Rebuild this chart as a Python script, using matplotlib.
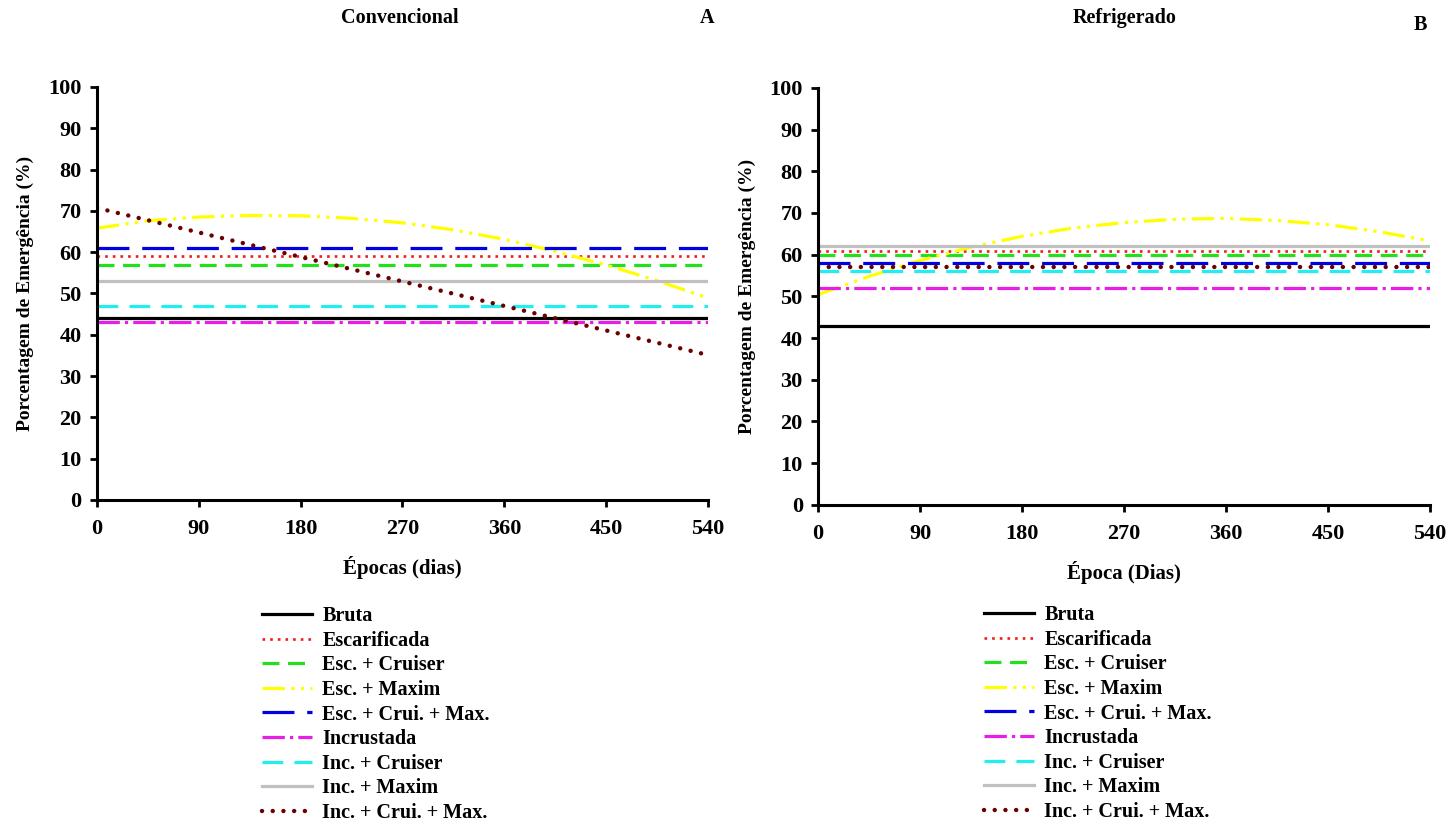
import matplotlib
matplotlib.use('Agg')
import matplotlib.pyplot as plt

plt.rcParams['font.family'] = ['Liberation Serif', 'DejaVu Serif']
plt.rcParams['font.weight'] = 'bold'
plt.rcParams['axes.labelweight'] = 'bold'

days = [0, 45, 90, 135, 180, 225, 270, 315, 360, 405, 450, 495, 540]
line_days = [0, 540]

labels = ['Bruta', 'Escarificada', 'Esc. + Cruiser', 'Esc. + Maxim',
          'Esc. + Crui. + Max.', 'Incrustada', 'Inc. + Cruiser',
          'Inc. + Maxim', 'Inc. + Crui. + Max.']

# Convencional (A)
conv_bruta = [44, 44]
conv_escarificada = [59, 59]
conv_esc_cruiser = [57, 57]
conv_esc_maxim = [65.8, 67.6, 68.5, 68.9, 68.8, 68.2, 67.1, 65.4, 63.1, 60.2, 56.9, 53.1, 48.9]
conv_esc_crui_max = [61, 61]
conv_incrustada = [43, 43]
conv_inc_cruiser = [47, 47]
conv_inc_maxim = [53, 53]
conv_inc_crui_max = [70.7, 35.1]

# Refrigerado (B)
ref_bruta = [43, 43]
ref_escarificada = [61, 61]
ref_esc_cruiser = [60, 60]
ref_esc_maxim = [50.4, 54.8, 58.6, 61.8, 64.4, 66.4, 67.7, 68.5, 68.7, 68.2, 67.2, 65.5, 63.3]
ref_esc_crui_max = [58, 58]
ref_incrustada = [52, 52]
ref_inc_cruiser = [56, 56]
ref_inc_maxim = [62, 62]
ref_inc_crui_max = [57, 57]

styles = [
    dict(color='black', lw=2.3, ls='-'),
    dict(color='#ee1c1c', lw=1.9, ls=(0, (1, 1.9))),
    dict(color='#22e01c', lw=2.3, ls=(0, (5.3, 2.7))),
    dict(color='#ffff00', lw=2.3, ls=(0, (7, 2, 1, 2, 1, 2))),
    dict(color='#0000e0', lw=2.3, ls=(0, (10, 4))),
    dict(color='#e81ee8', lw=2.3, ls=(0, (7, 1.6, 1, 1.6))),
    dict(color='#22eef0', lw=2.3, ls=(0, (6.5, 3.5))),
    dict(color='#c0c0c0', lw=2.3, ls='-'),
    dict(color='#6b0000', lw=3.2, ls=(0, (0.01, 2.4)), dash_capstyle='round'),
]


def draw(ax, series, xlabel):
    handles = []
    for lab, (x, y), st in zip(labels, series, styles):
        h, = ax.plot(x, y, label=lab, **st)
        handles.append(h)
    ax.set_xlim(0, 540)
    ax.set_ylim(0, 100)
    ax.set_xticks(range(0, 541, 90))
    ax.set_yticks(range(0, 101, 10))
    ax.spines['top'].set_visible(False)
    ax.spines['right'].set_visible(False)
    for s in ['left', 'bottom']:
        ax.spines[s].set_linewidth(2.2)
    ax.tick_params(direction='out', width=2, length=5, labelsize=16)
    ax.tick_params(axis='x', pad=9)
    ax.tick_params(axis='y', pad=6)
    ax.set_xlabel(xlabel, fontsize=15, labelpad=12)
    ax.set_ylabel('Porcentagem de Emergência (%)', fontsize=14, labelpad=10)
    return handles


fig = plt.figure(figsize=(14.52, 8.25), dpi=100)
ax1 = fig.add_axes([0.0668, 0.394, 0.4208, 0.5006])
ax2 = fig.add_axes([0.5634, 0.388, 0.4215, 0.5055])

conv = [(line_days, conv_bruta), (line_days, conv_escarificada), (line_days, conv_esc_cruiser),
        (days, conv_esc_maxim), (line_days, conv_esc_crui_max), (line_days, conv_incrustada),
        (line_days, conv_inc_cruiser), (line_days, conv_inc_maxim), (line_days, conv_inc_crui_max)]
ref = [(line_days, ref_bruta), (line_days, ref_escarificada), (line_days, ref_esc_cruiser),
       (days, ref_esc_maxim), (line_days, ref_esc_crui_max), (line_days, ref_incrustada),
       (line_days, ref_inc_cruiser), (line_days, ref_inc_maxim), (line_days, ref_inc_crui_max)]

h1 = draw(ax1, conv, 'Épocas (dias)')
h2 = draw(ax2, ref, 'Época (Dias)')

fig.text(400 / 1452, 1 - 18 / 825, 'Convencional', ha='center', va='center', fontsize=14.5)
fig.text(707 / 1452, 1 - 18 / 825, 'A', ha='center', va='center', fontsize=14.5)
fig.text(1125 / 1452, 1 - 18 / 825, 'Refrigerado', ha='center', va='center', fontsize=14.5)
fig.text(1420 / 1452, 1 - 25 / 825, 'B', ha='center', va='center', fontsize=14.5)

legkw = dict(frameon=False, fontsize=14.5, handlelength=2.5, handletextpad=0.5,
             labelspacing=0.23, loc='upper left', borderaxespad=0, borderpad=0)
fig.legend(handles=h1, bbox_to_anchor=(262 / 1452, 1 - 606 / 825), **legkw)
fig.legend(handles=h2, bbox_to_anchor=(984 / 1452, 1 - 605 / 825), **legkw)

fig.savefig('out.png', dpi=100)
